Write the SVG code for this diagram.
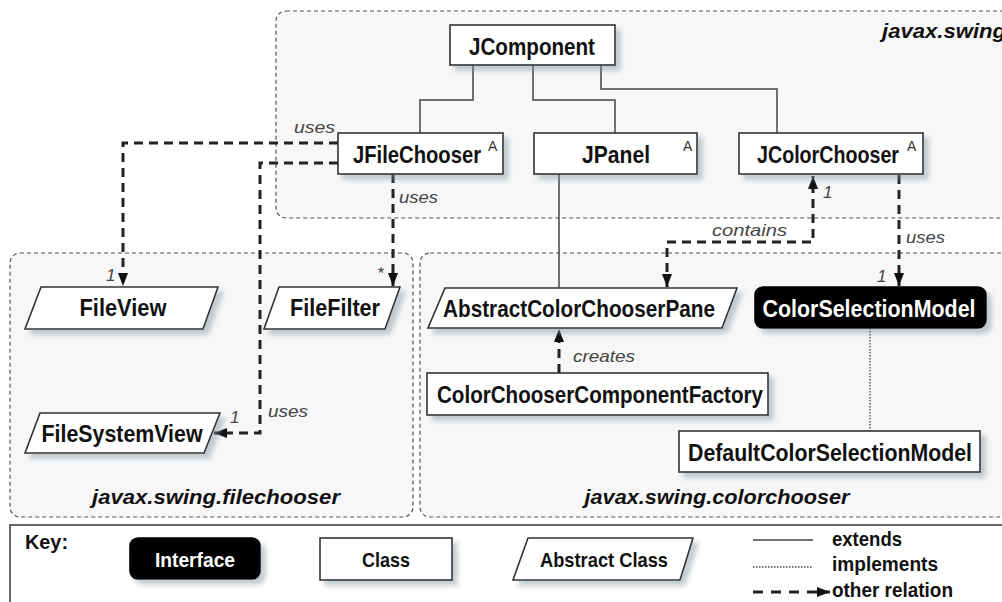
<svg xmlns="http://www.w3.org/2000/svg" width="1002" height="602" viewBox="0 0 1002 602">
<style>
.pkg{fill:#f7f7f7;stroke:#555;stroke-width:1.2;stroke-dasharray:4 3}
.box{fill:#fff;stroke:#333;stroke-width:1.6;filter:url(#sh)}
.ibox{fill:#000;stroke:#000;stroke-width:1.6;filter:url(#sh)}
.lbl{font-family:"Liberation Sans",Arial,sans-serif;font-weight:bold;font-size:24px;fill:#111;text-anchor:middle}
.wlbl{fill:#fff}
.klbl{font-size:21px}
.sup{font-family:"Liberation Sans",Arial,sans-serif;font-size:14px;fill:#333}
.pl{font-family:"Liberation Sans",Arial,sans-serif;font-weight:bold;font-style:italic;font-size:21px;fill:#111}
.it{font-family:"Liberation Sans",Arial,sans-serif;font-style:italic;font-size:17px;fill:#444}
.ext{fill:none;stroke:#444;stroke-width:1.5}
.imp{fill:none;stroke:#444;stroke-width:1.3;stroke-dasharray:1.5 1.5}
.rel{fill:none;stroke:#222;stroke-width:3;stroke-dasharray:9 6}
.leg{font-family:"Liberation Sans",Arial,sans-serif;font-weight:bold;font-size:20px;fill:#111}
</style>
<defs>
<filter id="sh" x="-10%" y="-20%" width="130%" height="160%">
<feDropShadow dx="5" dy="5" stdDeviation="2.5" flood-color="#7f8f99" flood-opacity="0.45"/>
</filter>
<marker id="ah" markerUnits="userSpaceOnUse" markerWidth="14" markerHeight="12" refX="13" refY="5" orient="auto-start-reverse">
<path d="M0,0 L13,5 L0,10 z" fill="#111"/>
</marker>
</defs>
<rect width="1002" height="602" fill="#fff"/>

<g id="packages">
<rect class="pkg" x="276" y="11" width="800" height="207" rx="10"/>
<rect class="pkg" x="10" y="253" width="403" height="264" rx="10"/>
<rect class="pkg" x="420" y="253" width="640" height="264" rx="10"/>
<text class="pl" x="1006" y="38" text-anchor="end" textLength="124" lengthAdjust="spacingAndGlyphs">javax.swing</text>
<text class="pl" x="216" y="504" text-anchor="middle" textLength="248" lengthAdjust="spacingAndGlyphs">javax.swing.filechooser</text>
<text class="pl" x="717" y="504" text-anchor="middle" textLength="265" lengthAdjust="spacingAndGlyphs">javax.swing.colorchooser</text>
</g>

<g id="connectors">
<path class="ext" d="M473,65 V100 H420 V133"/>
<path class="ext" d="M533,65 V100 H615 V133"/>
<path class="ext" d="M601,65 V89 H777 V133"/>
<path class="ext" d="M559,174 V288"/>
<path class="imp" d="M870,328 V431"/>
<path class="rel" d="M338,143 H123 V286" marker-end="url(#ah)"/>
<path class="rel" d="M338,163 H260 V433 H214" marker-end="url(#ah)"/>
<path class="rel" d="M393,174 V286" marker-end="url(#ah)"/>
<path class="rel" d="M667,287 V242 H813 V176" marker-start="url(#ah)" marker-end="url(#ah)"/>
<path class="rel" d="M899,175 V286" marker-end="url(#ah)"/>
<path class="rel" d="M559,373 V329" marker-end="url(#ah)"/>
<text class="it" x="294" y="133" textLength="41" lengthAdjust="spacingAndGlyphs">uses</text>
<text class="it" x="399" y="203" textLength="39" lengthAdjust="spacingAndGlyphs">uses</text>
<text class="it" x="268" y="417" textLength="40" lengthAdjust="spacingAndGlyphs">uses</text>
<text class="it" x="906" y="243" textLength="39" lengthAdjust="spacingAndGlyphs">uses</text>
<text class="it" x="712" y="236" textLength="75" lengthAdjust="spacingAndGlyphs">contains</text>
<text class="it" x="573" y="362" textLength="62" lengthAdjust="spacingAndGlyphs">creates</text>
<text class="it" x="106" y="281">1</text>
<text class="it" x="377" y="279">*</text>
<text class="it" x="230" y="423">1</text>
<text class="it" x="823" y="198">1</text>
<text class="it" x="877" y="282">1</text>
</g>

<g id="JComponent">
<rect class="box" x="450" y="25" width="165" height="40"/>
<text class="lbl" x="532" y="55" textLength="126" lengthAdjust="spacingAndGlyphs">JComponent</text>
</g>
<g id="JFileChooser">
<rect class="box" x="338" y="133" width="165" height="41"/>
<text class="lbl" x="417" y="163" textLength="128" lengthAdjust="spacingAndGlyphs">JFileChooser</text>
<text class="sup" x="488" y="151">A</text>
</g>
<g id="JPanel">
<rect class="box" x="534" y="133" width="163" height="41"/>
<text class="lbl" x="616" y="163" textLength="68" lengthAdjust="spacingAndGlyphs">JPanel</text>
<text class="sup" x="683" y="151">A</text>
</g>
<g id="JColorChooser">
<rect class="box" x="739" y="133" width="184" height="41"/>
<text class="lbl" x="828" y="163" textLength="142" lengthAdjust="spacingAndGlyphs">JColorChooser</text>
<text class="sup" x="907" y="151">A</text>
</g>
<g id="FileView">
<polygon class="box" points="41,287 218,287 203,329 25,329"/>
<text class="lbl" x="123" y="316" textLength="87" lengthAdjust="spacingAndGlyphs">FileView</text>
</g>
<g id="FileFilter">
<polygon class="box" points="279,287 400,287 385,329 264,329"/>
<text class="lbl" x="335" y="316" textLength="90" lengthAdjust="spacingAndGlyphs">FileFilter</text>
</g>
<g id="FileSystemView">
<polygon class="box" points="40,413 220,413 204,453 25,453"/>
<text class="lbl" x="122" y="442" textLength="161" lengthAdjust="spacingAndGlyphs">FileSystemView</text>
</g>
<g id="AbstractColorChooserPane">
<polygon class="box" points="445,288 737,288 722,328 428,328"/>
<text class="lbl" x="579" y="317" textLength="272" lengthAdjust="spacingAndGlyphs">AbstractColorChooserPane</text>
</g>
<g id="ColorSelectionModel">
<rect class="ibox" x="755" y="287" width="231" height="41" rx="8"/>
<text class="lbl wlbl" x="869" y="317" textLength="213" lengthAdjust="spacingAndGlyphs">ColorSelectionModel</text>
</g>
<g id="ColorChooserComponentFactory">
<rect class="box" x="427" y="373" width="341" height="42"/>
<text class="lbl" x="600" y="403" textLength="326" lengthAdjust="spacingAndGlyphs">ColorChooserComponentFactory</text>
</g>
<g id="DefaultColorSelectionModel">
<rect class="box" x="679" y="431" width="301" height="41"/>
<text class="lbl" x="830" y="461" textLength="284" lengthAdjust="spacingAndGlyphs">DefaultColorSelectionModel</text>
</g>

<g id="key">
<rect x="10" y="525" width="1010" height="100" fill="#fff" stroke="#444" stroke-width="1.6"/>
<text class="leg" x="25" y="549" textLength="43" lengthAdjust="spacingAndGlyphs">Key:</text>
<rect class="ibox" x="130" y="538" width="130" height="41" rx="8"/>
<text class="lbl klbl wlbl" x="195" y="567" textLength="80" lengthAdjust="spacingAndGlyphs">Interface</text>
<rect class="box" x="320" y="538" width="132" height="42"/>
<text class="lbl klbl" x="386" y="567" textLength="48" lengthAdjust="spacingAndGlyphs">Class</text>
<polygon class="box" points="528,538 693,538 680,580 513,580"/>
<text class="lbl klbl" x="604" y="567" textLength="128" lengthAdjust="spacingAndGlyphs">Abstract Class</text>
<line class="ext" x1="753" y1="540" x2="813" y2="540"/>
<line class="imp" x1="753" y1="567" x2="813" y2="567"/>
<line x1="753" y1="592" x2="830" y2="592" stroke="#222" stroke-width="3" stroke-dasharray="10 8" marker-end="url(#ah)"/>
<text class="leg" x="832" y="546" textLength="70" lengthAdjust="spacingAndGlyphs">extends</text>
<text class="leg" x="832" y="571" textLength="106" lengthAdjust="spacingAndGlyphs">implements</text>
<text class="leg" x="832" y="597" textLength="121" lengthAdjust="spacingAndGlyphs">other relation</text>
</g>
</svg>
